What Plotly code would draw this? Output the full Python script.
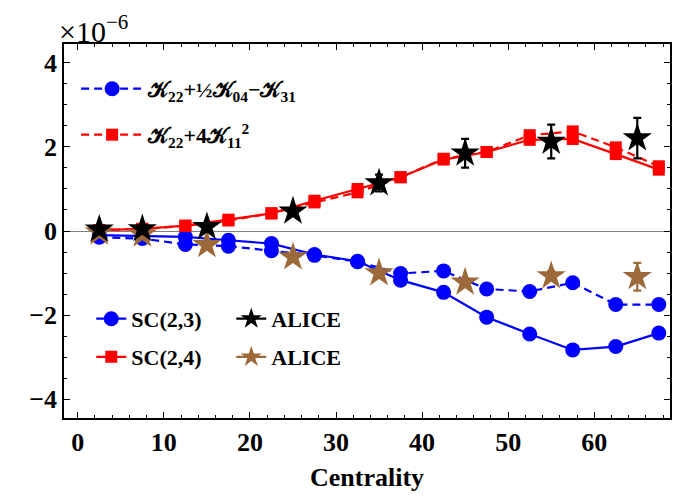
import plotly.graph_objects as go

# ---------------- data ----------------
centrality = [2.5, 7.5, 12.5, 17.5, 22.5, 27.5, 32.5, 37.5, 42.5, 47.5, 52.5, 57.5, 62.5, 67.5]
sc23 = [-0.10, -0.12, -0.14, -0.22, -0.30, -0.56, -0.72, -1.17, -1.46, -2.05, -2.45, -2.83, -2.75, -2.43]
k_combo = [-0.15, -0.18, -0.32, -0.36, -0.47, -0.58, -0.73, -1.01, -0.95, -1.38, -1.44, -1.23, -1.75, -1.75]
sc24 = [0.02, 0.05, 0.13, 0.27, 0.42, 0.72, 1.00, 1.28, 1.70, 1.88, 2.17, 2.19, 1.83, 1.46]
k_sum = [0.02, 0.05, 0.12, 0.25, 0.42, 0.68, 0.92, 1.28, 1.72, 1.88, 2.28, 2.37, 1.99, 1.54]

alice_x = [2.5, 7.5, 15, 25, 35, 45, 55, 65]
alice_sc24 = [0.04, 0.05, 0.10, 0.47, 1.14, 1.85, 2.13, 2.21]
alice_sc24_err = [0.02, 0.03, 0.05, 0.08, 0.20, 0.34, 0.40, 0.48]
alice_sc23 = [-0.03, -0.08, -0.33, -0.62, -1.00, -1.22, -1.07, -1.09]
alice_sc23_err = [0.02, 0.03, 0.04, 0.06, 0.08, 0.10, 0.12, 0.33]

x_ticks = [0, 10, 20, 30, 40, 50, 60]
y_ticks = [-4, -2, 0, 2, 4]
y_ticklabels = ["−4", "−2", "0", "2", "4"]

label_k_combo = "𝒦<sub>22</sub>+½𝒦<sub>04</sub>−𝒦<sub>31</sub>"
label_k_sum = "𝒦<sub>22</sub>+4𝒦<sub>11</sub><sup>2</sup>"

BLUE = "#0000FF"
RED = "#FF0000"
BROWN = "#9C6A3A"
SERIF = "Liberation Serif"

fig = go.Figure()

# model lines
fig.add_trace(go.Scatter(x=centrality, y=sc23, mode="lines+markers", name="SC(2,3)",
                         line=dict(color=BLUE, width=2.2), marker=dict(symbol="circle", size=15, color=BLUE),
                         legend="legend3"))
fig.add_trace(go.Scatter(x=centrality, y=k_combo, mode="lines+markers", name=label_k_combo,
                         line=dict(color=BLUE, width=2.2, dash="8px,5px"),
                         marker=dict(symbol="circle", size=15, color=BLUE), legend="legend"))
fig.add_trace(go.Scatter(x=centrality, y=sc24, mode="lines+markers", name="SC(2,4)",
                         line=dict(color=RED, width=2.2), marker=dict(symbol="square", size=12, color=RED),
                         legend="legend4"))
fig.add_trace(go.Scatter(x=centrality, y=k_sum, mode="lines+markers", name=label_k_sum,
                         line=dict(color=RED, width=2.2, dash="8px,5px"),
                         marker=dict(symbol="square", size=12, color=RED), legend="legend2"))

# ALICE data
fig.add_trace(go.Scatter(x=alice_x, y=alice_sc23, mode="markers", showlegend=False,
                         marker=dict(symbol="star", size=22, color=BROWN),
                         error_y=dict(type="data", array=alice_sc23_err, color=BROWN, thickness=2.2, width=4)))
fig.add_trace(go.Scatter(x=alice_x, y=alice_sc24, mode="markers", showlegend=False,
                         marker=dict(symbol="star", size=22, color="black"),
                         error_y=dict(type="data", array=alice_sc24_err, color="black", thickness=2.2, width=4)))
# legend entries for ALICE
fig.add_trace(go.Scatter(x=[None], y=[None], mode="lines+markers", name="ALICE",
                         line=dict(color="black", width=2.2), marker=dict(symbol="star", size=22, color="black"),
                         legend="legend5"))
fig.add_trace(go.Scatter(x=[None], y=[None], mode="lines+markers", name="ALICE",
                         line=dict(color=BROWN, width=2.2), marker=dict(symbol="star", size=22, color=BROWN),
                         legend="legend6"))

leg_font = dict(family=SERIF, size=22, color="black", weight="bold")
def leg(x, y, itemwidth=30):
    return dict(x=x, y=y, xanchor="left", yanchor="middle", bgcolor="rgba(0,0,0,0)",
                font=leg_font, itemwidth=itemwidth, borderwidth=0, tracegroupgap=0)

fig.update_layout(
    width=687, height=499,
    margin=dict(l=56, r=25, t=36, b=89),
    paper_bgcolor="white", plot_bgcolor="white",
    font=dict(family=SERIF, size=26, color="black"),
    legend=leg(0.02, 0.88, 62),
    legend2=leg(0.02, 0.757, 62),
    legend3=leg(0.045, 0.265),
    legend4=leg(0.045, 0.163),
    legend5=leg(0.276, 0.265),
    legend6=leg(0.276, 0.163),
    xaxis=dict(range=[-1.6, 68.8], tickvals=x_ticks, ticks="inside", ticklen=6, tickwidth=1.3,
               tickcolor="black", showline=True, linecolor="black", linewidth=1.6, mirror="allticks",
               showgrid=False, zeroline=False,
               tickfont=dict(family=SERIF, size=26, weight="bold"),
               minor=dict(dtick=2, tick0=0, ticks="inside", ticklen=3, tickcolor="black", showgrid=False),
               title=dict(text="Centrality", font=dict(family=SERIF, size=26, weight="bold"), standoff=12)),
    yaxis=dict(range=[-4.45, 4.45], tickvals=y_ticks, ticktext=y_ticklabels, ticks="inside", ticklen=6,
               tickwidth=1.3, tickcolor="black", showline=True, linecolor="black", linewidth=1.6,
               mirror="allticks", showgrid=False, zeroline=True, zerolinecolor="#808080", zerolinewidth=1.2,
               tickfont=dict(family=SERIF, size=26, weight="bold"),
               minor=dict(dtick=0.5, tick0=0, ticks="inside", ticklen=3, tickcolor="black", showgrid=False)),
    annotations=[dict(text="×10<sup>−6</sup>", xref="paper", yref="paper", x=-0.012, y=1.0,
                      xanchor="left", yanchor="bottom", showarrow=False, yshift=-6,
                      font=dict(family=SERIF, size=30, color="black"))],
)

fig.write_html("out.html")
